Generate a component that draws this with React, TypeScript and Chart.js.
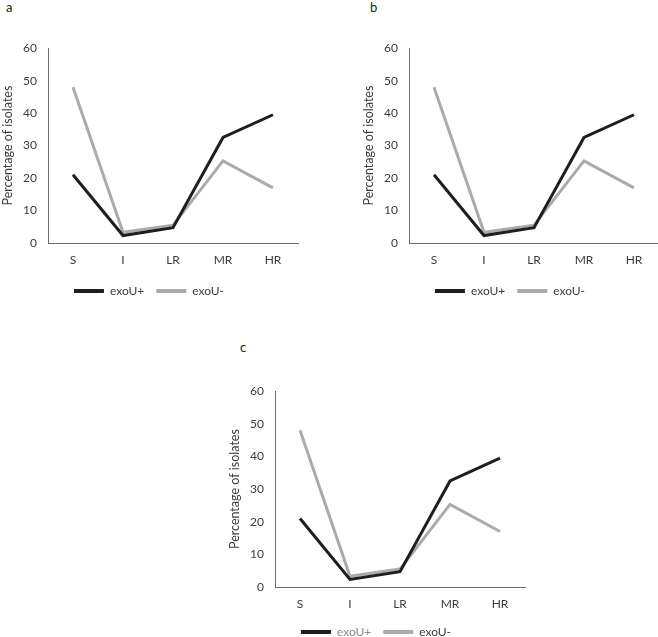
import React, { useEffect, useRef } from "react";
import { Chart, registerables } from "chart.js";

Chart.register(...registerables);

const categories = ["S", "I", "LR", "MR", "HR"];
const exoUPlus = [21, 2.3, 4.7, 32.5, 39.5];
const exoUMinus = [48, 3.3, 5.5, 25.3, 17];
const seriesNames = ["exoU+", "exoU-"];
const yTicks = [0, 10, 20, 30, 40, 50, 60];
const panelLabels = ["a", "b", "c"];

const FONT = "Lato, 'Open Sans', sans-serif";
const BLACK = "#1e1e1e";
const GRAY = "#ababab";
const TEXT = "#3c3c3c";
const AXIS = "#6b6b6b";

type PanelProps = {
  left: number;
  top: number;
  width: number;
  height: number;
  xHeight: number;
  legendColors: string[];
};

function LinePanel({ left, top, width, height, xHeight, legendColors }: PanelProps) {
  const ref = useRef<HTMLCanvasElement | null>(null);
  useEffect(() => {
    if (!ref.current) return;
    const chart = new Chart(ref.current, {
      type: "line",
      data: {
        labels: categories,
        datasets: [
          {
            label: seriesNames[0],
            data: exoUPlus,
            borderColor: BLACK,
            backgroundColor: BLACK,
            borderWidth: 3,
            pointRadius: 0,
            tension: 0,
          },
          {
            label: seriesNames[1],
            data: exoUMinus,
            borderColor: GRAY,
            backgroundColor: GRAY,
            borderWidth: 3,
            pointRadius: 0,
            tension: 0,
          },
        ],
      },
      options: {
        animation: false,
        responsive: false,
        devicePixelRatio: 1,
        layout: { padding: { top: 10, left: 0, right: 12, bottom: 0 } },
        plugins: {
          tooltip: { enabled: false },
          legend: {
            position: "bottom",
            labels: {
              boxWidth: 30,
              boxHeight: 4,
              padding: 12,
              font: { family: FONT, size: 12 },
              color: TEXT,
              generateLabels: (c: any) =>
                Chart.defaults.plugins.legend.labels
                  .generateLabels(c)
                  .map((l: any, i: number) => ({
                    ...l,
                    lineWidth: 0,
                    fontColor: legendColors[i],
                  })),
            },
          },
        },
        scales: {
          x: {
            offset: true,
            grid: { display: false, drawTicks: false },
            border: { display: true, color: AXIS, width: 1 },
            ticks: {
              color: TEXT,
              font: { family: FONT, size: 12 },
              padding: 10,
            },
            afterFit: (s: any) => {
              s.height = xHeight;
            },
          },
          y: {
            min: 0,
            max: 60,
            afterBuildTicks: (s: any) => {
              s.ticks = yTicks.map((v) => ({ value: v }));
            },
            grid: { display: false, drawTicks: false },
            border: { display: true, color: AXIS, width: 1 },
            ticks: {
              color: TEXT,
              font: { family: FONT, size: 12 },
              padding: 11,
            },
            title: {
              display: true,
              text: "Percentage of isolates",
              color: TEXT,
              font: { family: FONT, size: 12.5 },
              padding: 0,
            },
            afterFit: (s: any) => {
              s.width = 48;
            },
          },
        },
      },
    });
    return () => chart.destroy();
  }, []);
  return (
    <canvas
      ref={ref}
      width={width}
      height={height}
      style={{ position: "absolute", left, top, width, height }}
    />
  );
}

const labelStyle = (left: number, top: number): React.CSSProperties => ({
  position: "absolute",
  left,
  top,
  fontFamily: FONT,
  fontSize: 13,
  color: "#222",
  lineHeight: "14px",
});

export default function App() {
  return (
    <div
      style={{
        position: "absolute",
        left: 0,
        top: 0,
        width: 658,
        height: 637,
        background: "#fff",
        overflow: "hidden",
      }}
    >
      <div style={labelStyle(6, 0)}>{panelLabels[0]}</div>
      <div style={labelStyle(370, 0)}>{panelLabels[1]}</div>
      <div style={labelStyle(240, 340)}>{panelLabels[2]}</div>
      <LinePanel left={0} top={30} width={310} height={277} xHeight={30} legendColors={[TEXT, TEXT]} />
      <LinePanel left={361} top={30} width={310} height={277} xHeight={30} legendColors={[TEXT, TEXT]} />
      <LinePanel left={227} top={373} width={310} height={275} xHeight={27} legendColors={["#8a8a8a", TEXT]} />
    </div>
  );
}
